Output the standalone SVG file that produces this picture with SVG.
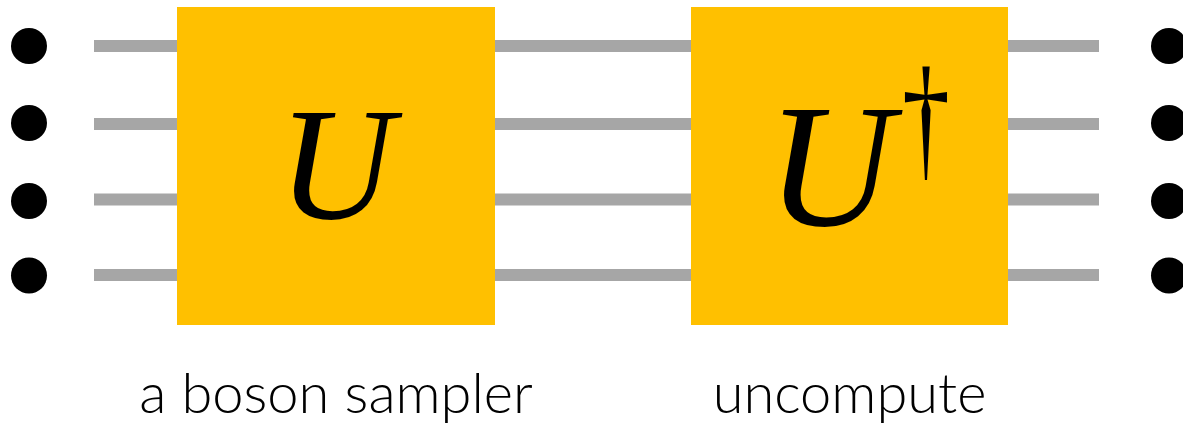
<svg xmlns="http://www.w3.org/2000/svg" width="1183" height="423" viewBox="0 0 1183 423">
<style>
.wire{stroke:#A6A6A6;stroke-width:12;fill:none}
.dot{fill:#000}
.box{fill:#FFC000}
.math{font-family:"Liberation Serif","DejaVu Serif",serif;font-style:italic;fill:#000}
.dag{font-family:"Liberation Serif","DejaVu Serif",serif;font-style:normal;fill:#000}
.label{font-family:Lato,"Open Sans",sans-serif;font-size:56px;font-weight:300;fill:#000;text-anchor:middle}
</style>
<rect width="1183" height="423" fill="#fff"/>
<g id="connectors">
<line class="wire" x1="94" y1="46" x2="177" y2="46"/>
<line class="wire" x1="94" y1="124" x2="177" y2="124"/>
<line class="wire" x1="94" y1="199.5" x2="177" y2="199.5"/>
<line class="wire" x1="94" y1="275" x2="177" y2="275"/>
<line class="wire" x1="495" y1="46" x2="691" y2="46"/>
<line class="wire" x1="495" y1="124" x2="691" y2="124"/>
<line class="wire" x1="495" y1="199.5" x2="691" y2="199.5"/>
<line class="wire" x1="495" y1="275" x2="691" y2="275"/>
<line class="wire" x1="1008" y1="46" x2="1099" y2="46"/>
<line class="wire" x1="1008" y1="124" x2="1099" y2="124"/>
<line class="wire" x1="1008" y1="199.5" x2="1099" y2="199.5"/>
<line class="wire" x1="1008" y1="275" x2="1099" y2="275"/>
</g>
<g id="inputs">
<circle class="dot" cx="29" cy="46" r="18"/>
<circle class="dot" cx="29" cy="123" r="18"/>
<circle class="dot" cx="29" cy="201" r="18"/>
<circle class="dot" cx="29" cy="275.5" r="18"/>
</g>
<g id="outputs">
<circle class="dot" cx="1169" cy="46" r="18"/>
<circle class="dot" cx="1169" cy="123" r="18"/>
<circle class="dot" cx="1169" cy="201" r="18"/>
<circle class="dot" cx="1169" cy="275.5" r="18"/>
</g>
<g id="sampler">
<rect class="box" x="177" y="7" width="318" height="318"/>
<text class="math" x="336" y="218" font-size="160" text-anchor="middle">U</text>
<text class="label" x="336" y="413">a boson sampler</text>
</g>
<g id="uncompute">
<rect class="box" x="691" y="7" width="317" height="318"/>
<text class="math" x="830" y="225" font-size="175" text-anchor="middle">U</text>
<text class="dag" transform="translate(926 164) scale(0.69 1)" x="0" y="0" font-size="139" text-anchor="middle">†</text>
<text class="label" x="849.5" y="413">uncompute</text>
</g>
</svg>
